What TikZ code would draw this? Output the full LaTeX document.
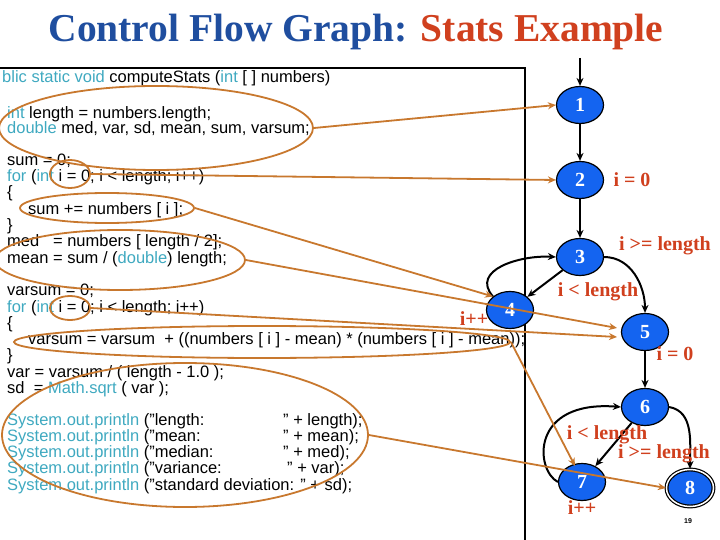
\documentclass[tikz,border=0pt]{standalone}
\usepackage{fontspec}
\setmainfont{Liberation Serif}
\setsansfont{Liberation Sans}
\usetikzlibrary{shapes.geometric,arrows.meta}
\definecolor{kw}{HTML}{3FA9C0}
\definecolor{org}{HTML}{C8782E}
\definecolor{nb}{HTML}{1464F0}
\definecolor{lab}{HTML}{D0401E}
\definecolor{tblue}{HTML}{1F4E9F}
\newcommand{\kw}[1]{\textcolor{kw}{#1}}
\begin{document}
\begin{tikzpicture}[x=1pt,y=-1pt,
  code/.style={anchor=west,inner sep=0pt,font=\fontsize{16.5}{18}\sffamily},
  gn/.style={ellipse,draw=black,line width=1.2pt,fill=nb,minimum width=47pt,minimum height=37pt,inner sep=0pt,text=white,font=\fontsize{20}{20}\bfseries\rmfamily},
  lb/.style={text=lab,font=\fontsize{20}{20}\bfseries\rmfamily,inner sep=0pt},
  edge/.style={line width=2pt,-{Stealth[length=8pt,width=7pt]}},
  ov/.style={draw=org,line width=1.8pt},
  oa/.style={draw=org,line width=1.8pt,-{Stealth[length=8pt,width=7pt]}}]
\useasboundingbox (0,0) rectangle (720,540);
\node[font=\fontsize{39.5}{40}\bfseries\rmfamily] (title) at (356,32) {\textcolor{tblue}{Control Flow Graph:} \textcolor{lab}{Stats Example}};
\draw[line width=1.5pt] (-5,68) rectangle (525,545);
% code
\node[code] (c0) at (2,78) {\kw{blic static void} computeStats (\kw{int} [ ] numbers)};
\node[code] (c1) at (7,114) {\kw{int} length = numbers.length;};
\node[code] (c2) at (7,129) {\kw{double} med, var, sd, mean, sum, varsum;};
\node[code] (c3) at (7,161) {sum = 0;};
\node[code] (c4) at (7,177) {\kw{for} (\kw{int} i = 0; i < length; i++)};
\node[code] (c5) at (7,193) {\{};
\node[code] (c6) at (28,210) {sum += numbers [ i ];};
\node[code] (c7) at (7,226) {\}};
\node[code] (c8) at (7,242) {med\ \ \ = numbers [ length / 2];};
\node[code] (c9) at (7,259) {mean = sum / (\kw{double}) length;};
\node[code] (c10) at (7,291) {varsum = 0;};
\node[code] (c11) at (7,308) {\kw{for} (\kw{int} i = 0; i < length; i++)};
\node[code] (c12) at (7,324) {\{};
\node[code] (c13) at (28,340) {varsum = varsum\ \ + ((numbers [ i ] - mean) * (numbers [ i ] - mean));};
\node[code] (c14) at (7,356) {\}};
\node[code] (c15) at (7,373) {var = varsum / ( length - 1.0 );};
\node[code] (c16) at (7,389) {sd\ \ = \kw{Math.sqrt} ( var );};
\node[code] (p1) at (7,421) {\kw{System.out.println} ("length:};
\node[code] (p2) at (7,437) {\kw{System.out.println} ("mean:};
\node[code] (p3) at (7,453) {\kw{System.out.println} ("median:};
\node[code] (p4) at (7,469) {\kw{System.out.println} ("variance:};
\node[code] (p5) at (7,486) {\kw{System.out.println} ("standard deviation: " + sd);};
\node[code] (q1) at (283,421) {" + length);};
\node[code] (q2) at (283,437) {" + mean);};
\node[code] (q3) at (283,453) {" + med);};
\node[code] (q4) at (287,469) {" + var);};
% graph nodes
\node[gn] (n1) at (580,105) {1};
\node[gn] (n2) at (580,180) {2};
\node[gn] (n3) at (580,257) {3};
\node[gn] (n4) at (510,310) {4};
\node[gn] (n5) at (645,332) {5};
\node[gn] (n6) at (645,407) {6};
\node[gn] (n7) at (582,482) {7};
\node[gn,double,double distance=1.5pt] (n8) at (690,488) {8};
\coordinate (top) at (580,58);
\draw[edge] (top) -- (n1);
\draw[edge] (n1) -- (n2);
\draw[edge] (n2) -- (n3);
\draw[edge] (n3) -- (n4);
\draw[edge] (n3.east) to[out=0,in=90] (n5.north);
\draw[edge] (n4.north west) .. controls (470,270) and (520,255) .. (n3.west);
\draw[edge] (n5) -- (n6);
\draw[edge] (n6) -- (n7);
\draw[edge] (n6.east) to[out=-10,in=90] (n8.north);
\draw[edge] (n7.west) .. controls (535,470) and (530,400) .. (n6.west);
% labels
\node[lb] (l1) at (632,180) {i = 0};
\node[lb] (l2) at (665,246) {i >= length};
\node[lb] (l3) at (598,292) {i < length};
\node[lb] (l4) at (474,319) {i++};
\node[lb] (l5) at (675,354) {i = 0};
\node[lb] (l6) at (607,435) {i < length};
\node[lb] (l7) at (664,454) {i >= length};
\node[lb] (l8) at (582,508) {i++};
\node[font=\fontsize{7}{7}\bfseries\sffamily] (pg) at (688,521) {19};
% orange ellipses
\node[ov,ellipse,minimum width=314pt,minimum height=84pt] (e1) at (156,128) {};
\node[ov,ellipse,minimum width=40pt,minimum height=28pt] (e2) at (70,174) {};
\node[ov,ellipse,minimum width=174pt,minimum height=30pt] (e3) at (107,208) {};
\node[ov,ellipse,minimum width=250pt,minimum height=60pt] (e4) at (120,260) {};
\node[ov,ellipse,minimum width=40pt,minimum height=24pt] (e5) at (70,308) {};
\node[ov,ellipse,minimum width=496pt,minimum height=32pt] (e6) at (262,342) {};
\node[ov,ellipse,minimum width=366pt,minimum height=144pt] (e7) at (185,435) {};
\coordinate (t5a) at (617,328);
\coordinate (t5b) at (617,337);
\coordinate (t7) at (575,466);
\draw[oa] (e1.east) -- (n1.west);
\draw[oa] (e2.east) -- (n2.west);
\draw[oa] (e3.east) -- (n4.north west);
\draw[oa] (e4.east) -- (t5a);
\draw[oa] (e5.east) -- (t5b);
\draw[oa] (e6.east) -- (t7);
\draw[oa] (e7.east) -- (n8.west);
\end{tikzpicture}
\end{document}
